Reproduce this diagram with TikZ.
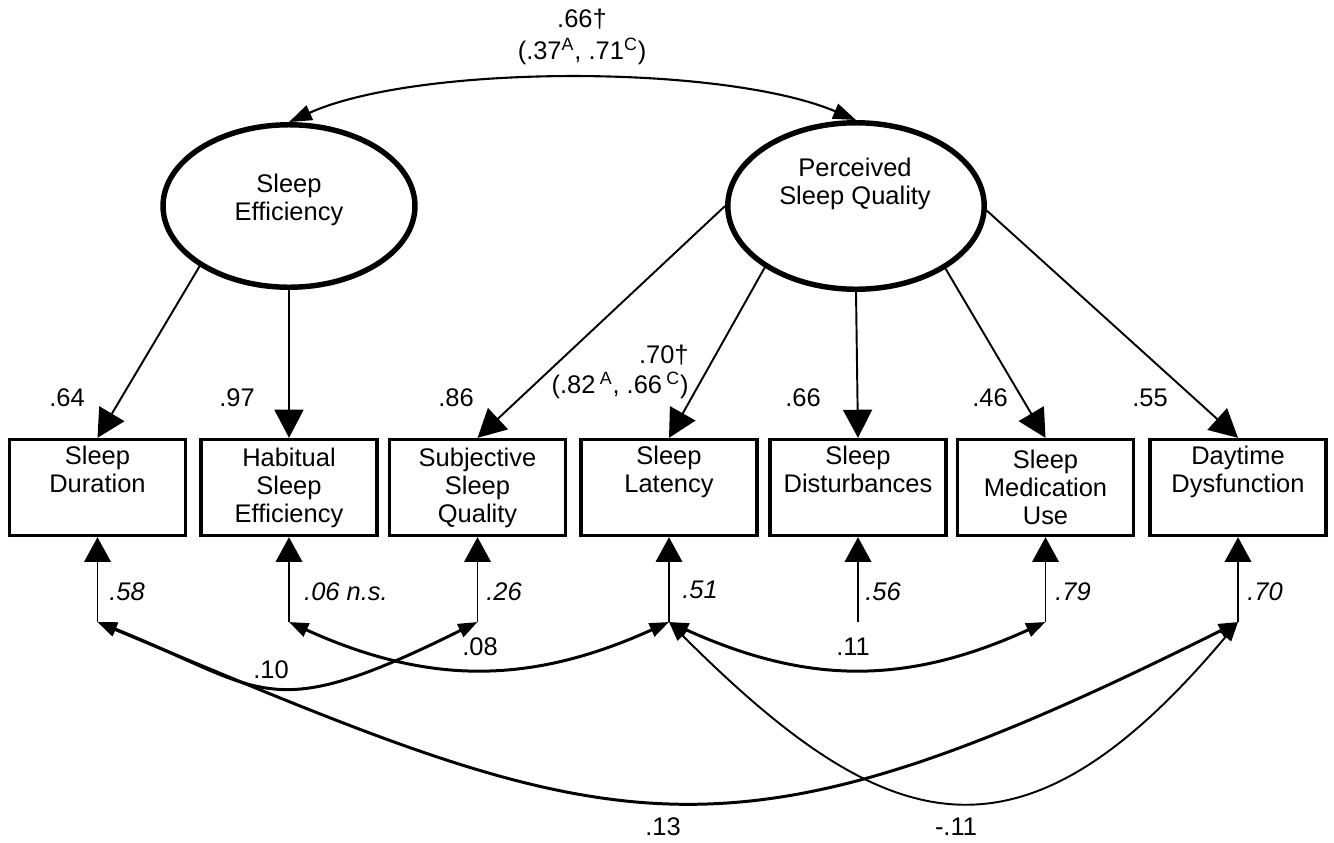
\documentclass[tikz,border=0pt]{standalone}
\usepackage{fontspec}
\setmainfont{Liberation Sans}
\usetikzlibrary{arrows.meta,shapes.geometric}
\begin{document}
\begin{tikzpicture}[x=0.02cm,y=-0.02cm,
  latent/.style={ellipse, draw, line width=3.1pt, inner sep=0pt},
  obs/.style={rectangle, draw, line width=1.9pt, minimum width=3.52cm, minimum height=1.92cm,
    align=center, inner sep=0pt, font=\fontsize{14.5}{15.9}\selectfont},
  lattext/.style={align=center, inner sep=0pt, font=\fontsize{14.5}{15.9}\selectfont},
  lab/.style={inner sep=0pt, font=\fontsize{14.5}{16}\selectfont},
  errlab/.style={inner sep=0pt, font=\fontsize{14.5}{16}\selectfont\itshape},
  load/.style={line width=1.1pt, -{Triangle[length=16pt,width=16.5pt]}},
  errarrow/.style={line width=1.1pt, -{Triangle[length=14pt,width=15pt]}},
  cov/.style={line width=1.7pt, {Triangle[length=11pt,width=8pt]}-{Triangle[length=11pt,width=8pt]}},
  covthin/.style={line width=1.1pt, {Triangle[length=11pt,width=8pt]}-{Triangle[length=11pt,width=8pt]}},
  topcov/.style={line width=1.2pt, {Triangle[length=13pt,width=9pt]}-{Triangle[length=13pt,width=9pt]}}
]
\path[use as bounding box, fill=white] (0,0) rectangle (1334,842);

% latent variables
\node[latent, minimum width=5.04cm, minimum height=3.25cm] (se) at (289,206) {};
\node[lattext] (setxt) at (289,200) {Sleep\\Efficiency};
\node[latent, minimum width=5.13cm, minimum height=3.33cm] (psq) at (856,206) {};
\node[lattext] (psqtxt) at (855,184) {Perceived\\Sleep Quality};

% observed variables
\node[obs] (b1) at (97.5,487.5) {Sleep\\Duration\\\strut};
\node[obs] (b2) at (289,487.5) {Habitual\\Sleep\\Efficiency};
\node[obs] (b3) at (477.5,487.5) {Subjective\\Sleep\\Quality};
\node[obs] (b4) at (669,487.5) {Sleep\\Latency\\\strut};
\node[obs] (b5) at (858,487.5) {Sleep\\Disturbances\\\strut};
\node[obs] (b6) at (1045.5,487.5) {Sleep\\Medication\\Use};
\node[obs] (b7) at (1238,487.5) {Daytime\\Dysfunction\\\strut};

% error term ends
\coordinate (e1) at (97.5,622);
\coordinate (e2) at (289,622);
\coordinate (e3) at (477.5,622);
\coordinate (e4) at (669,622);
\coordinate (e5) at (858,622);
\coordinate (e6) at (1045.5,622);
\coordinate (e7) at (1238,622);

% factor covariance
\draw[topcov] (se.north) .. controls (418,64) and (723,64) .. (psq.north);
\node[lab, align=center] (toplab) at (582,37) {.66†\\[2pt](.37\textsuperscript{A}, .71\textsuperscript{C})};

% loadings
\draw[load] (se.214) -- (b1.north);
\draw[load] (se.south) -- (b2.north);
\draw[load] (psq.180) -- (b3.north);
\draw[load] (psq.214) -- (b4.north);
\draw[load] (psq.south) -- (b5.north);
\draw[load] (psq.325) -- (b6.north);
\draw[load] (psq.358) -- (b7.north);

\node[lab] (l1) at (67,398) {.64};
\node[lab] (l2) at (237,398) {.97};
\node[lab] (l3) at (456,398) {.86};
\node[lab, align=right, anchor=east] (l4) at (689,372) {.70†\\[1pt](.82\,\textsuperscript{A}, .66\,\textsuperscript{C})};
\node[lab] (l5) at (803,398) {.66};
\node[lab] (l6) at (990,398) {.46};
\node[lab] (l7) at (1150,398) {.55};

% error arrows
\foreach \i in {1,...,7} {\draw[errarrow] (e\i) -- (b\i.south);}
\node[errlab] (r1) at (127,592) {.58};
\node[errlab] (r2) at (346,592) {.06 n.s.};
\node[errlab] (r3) at (504,592) {.26};
\node[errlab] (r4) at (700,590) {.51};
\node[errlab] (r5) at (883,592) {.56};
\node[errlab] (r6) at (1073,592) {.79};
\node[errlab] (r7) at (1265,592) {.70};

% residual covariances
\draw[cov] (e1) .. controls (267,690) and (266,727) .. (e3);
\draw[cov] (e2) .. controls (428,685) and (530,685) .. (e4);
\draw[cov] (e4) .. controls (808,685) and (907,685) .. (e6);
\draw[cov] (e1) .. controls (619,841) and (715,883) .. (e7);
\draw[covthin] (e4) .. controls (886,839) and (1020,882) .. (e7);

\node[lab] (c1) at (271,670) {.10};
\node[lab] (c2) at (480,647) {.08};
\node[lab] (c3) at (853,647) {.11};
\node[lab] (c4) at (663,827) {.13};
\node[lab] (c5) at (956,827) {-.11};
\end{tikzpicture}
\end{document}
